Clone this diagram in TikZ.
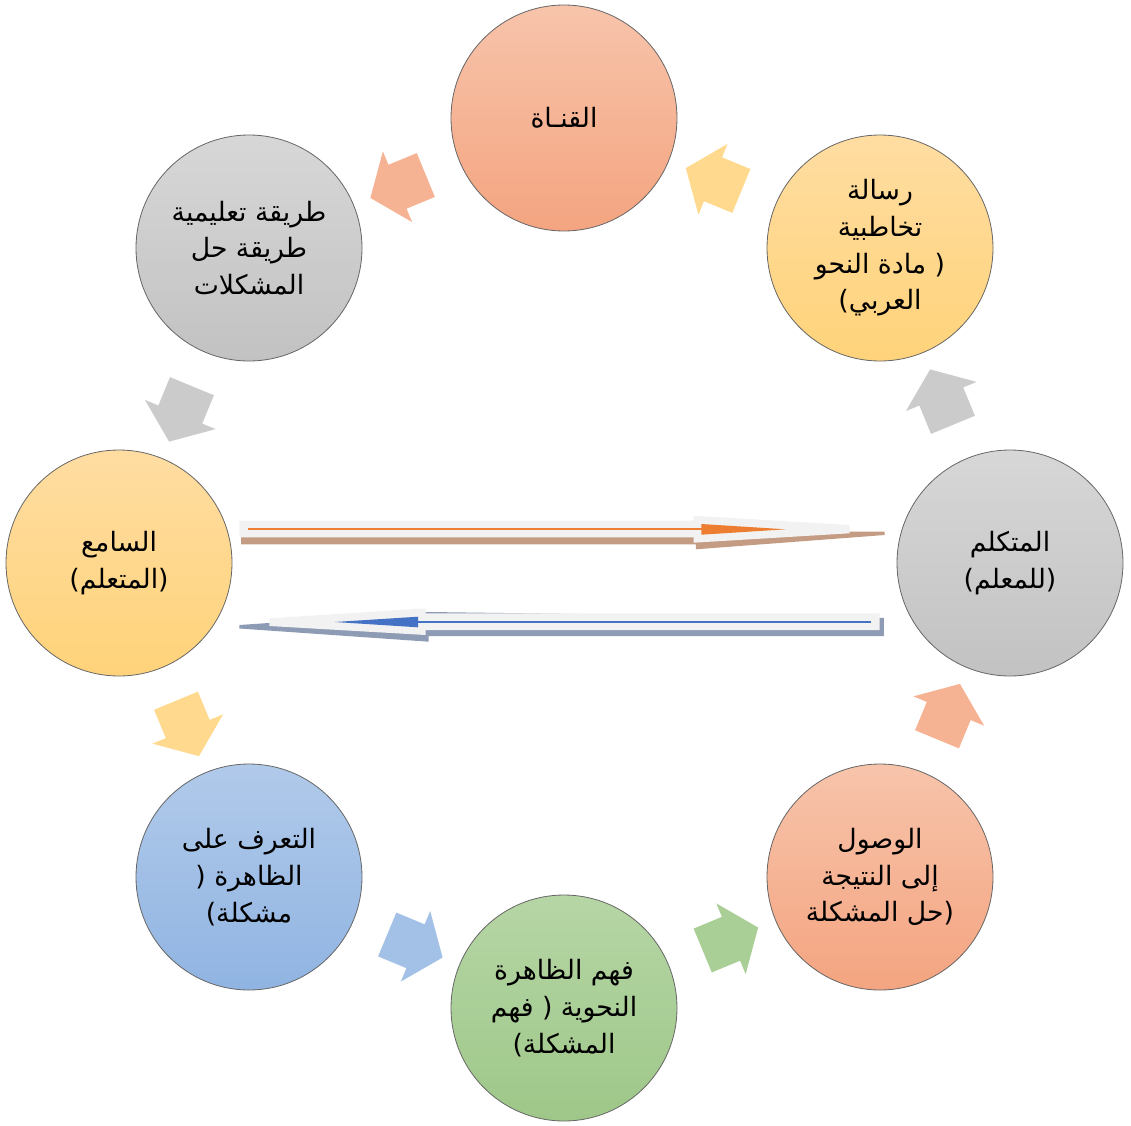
\documentclass[tikz,border=0pt]{standalone}
\usepackage{fontspec}
\usetikzlibrary{shapes.arrows,calc}
\setmainfont{DejaVu Sans}
\newfontfamily\arabicfont[Script=Arabic]{DejaVu Sans}
\TeXXeTstate=1
\newcommand{\AR}[1]{{\arabicfont\beginR #1\endR}}
\definecolor{salT}{HTML}{F7C4AB}
\definecolor{salB}{HTML}{F4A480}
\definecolor{golT}{HTML}{FFDDA2}
\definecolor{golB}{HTML}{FFD37A}
\definecolor{gryT}{HTML}{D7D7D7}
\definecolor{gryB}{HTML}{C2C2C2}
\definecolor{grnT}{HTML}{B6D6A5}
\definecolor{grnB}{HTML}{9EC789}
\definecolor{bluT}{HTML}{B1CAEA}
\definecolor{bluB}{HTML}{90B4E2}
\definecolor{salA}{HTML}{F6B394}
\definecolor{golA}{HTML}{FFD98E}
\definecolor{gryA}{HTML}{CBCBCB}
\definecolor{grnA}{HTML}{A9CE96}
\definecolor{bluA}{HTML}{A3C1E7}
\definecolor{lightA}{HTML}{F2F2F2}
\definecolor{brownS}{HTML}{C49B83}
\definecolor{blueS}{HTML}{8E9BB4}
\definecolor{orangeL}{HTML}{ED7D31}
\definecolor{blueL}{HTML}{4472C4}
\begin{document}
\begin{tikzpicture}[x=0.75pt,y=-0.75pt,
  circ/.style={circle, draw=black!60, line width=0.6pt, minimum size=169.5pt,
    inner sep=0pt, align=center, font=\fontsize{20}{27.5}\selectfont},
  cycarrow/.style={shape=single arrow, draw=none, inner sep=0pt,
    text height=17.6pt, text depth=17.6pt, text width=0pt,
    minimum height=45pt,
    single arrow head extend=10.9pt, single arrow tip angle=105,
    midway, sloped, allow upside down}]
\useasboundingbox (0,0) rectangle (1131,1125);

% circles
\node[circ, top color=salT, bottom color=salB] (qanat) at (564,118) {\AR{القنـاة}};
\node[circ, top color=golT, bottom color=golB] (risala) at (880,248)
  {\AR{رسالة}\\ \AR{تخاطبية}\\ \AR{مادة النحو} )\\ (\AR{العربي}};
\node[circ, top color=gryT, bottom color=gryB] (mutakallim) at (1010,563)
  {\AR{المتكلم}\\ (\AR{للمعلم})};
\node[circ, top color=salT, bottom color=salB] (wusul) at (880,877)
  {\AR{الوصول}\\ \AR{إلى النتيجة}\\ \AR{حل المشكلة})};
\node[circ, top color=grnT, bottom color=grnB] (fahm) at (564,1008)
  {\AR{فهم الظاهرة}\\ \AR{فهم} ) \AR{النحوية}\\ (\AR{المشكلة}};
\node[circ, top color=bluT, bottom color=bluB] (taarruf) at (249,877)
  {\AR{التعرف على}\\ ) \AR{الظاهرة}\\ (\AR{مشكلة}};
\node[circ, top color=golT, bottom color=golB] (sami) at (119,563)
  {\AR{السامع}\\ (\AR{المتعلم})};
\node[circ, top color=gryT, bottom color=gryB] (tariqa) at (249,248)
  {\AR{طريقة تعليمية}\\ \AR{طريقة حل}\\ \AR{المشكلات}};

% cycle arrows
\path (qanat) -- (tariqa) node[cycarrow, fill=salA] (a1) {};
\path (tariqa) -- (sami) node[cycarrow, fill=gryA] (a2) {};
\path (sami) -- (taarruf) node[cycarrow, fill=golA] (a3) {};
\path (taarruf) -- (fahm) node[cycarrow, fill=bluA] (a4) {};
\path (fahm) -- (wusul) node[cycarrow, fill=grnA] (a5) {};
\path (wusul) -- (mutakallim) node[cycarrow, fill=salA] (a6) {};
\path (mutakallim) -- (risala) node[cycarrow, fill=gryA] (a7) {};
\path (risala) -- (qanat) node[cycarrow, fill=golA] (a8) {};

% middle arrow: listener -> speaker (orange)
\fill[brownS] (241,528) -- (884.7,531.7) -- (884.7,535) -- (695.8,549.3)
  -- (695.8,544.3) -- (241,544.3) -- cycle;
\fill[lightA] (239.4,520.7) -- (693.7,520.7) -- (693.7,515.7) -- (849.7,525)
  -- (849.7,533.3) -- (693.7,542.7) -- (693.7,537.3) -- (239.4,537.3) -- cycle;
\draw[orangeL, line width=1.4pt] (248,529.3) -- (702,529.3);
\fill[orangeL] (701.4,524) -- (785.6,529.3) -- (701.4,534.7) -- cycle;

% middle arrow: speaker -> listener (blue)
\fill[blueS] (883.8,618) -- (883.8,636) -- (428.7,636) -- (428.7,641.7)
  -- (239.4,628.5) -- (239.4,625) -- (428.7,612) -- cycle;
\fill[lightA] (879.6,613.3) -- (879.6,630) -- (425.7,630) -- (425.7,635)
  -- (269.3,626) -- (269.3,618.3) -- (425.7,608.3) -- (425.7,613.3) -- cycle;
\draw[blueL, line width=1.3pt] (871,621.7) -- (417,621.7);
\fill[blueL] (418,616.7) -- (334.7,622) -- (418,627.3) -- cycle;
\end{tikzpicture}
\end{document}
